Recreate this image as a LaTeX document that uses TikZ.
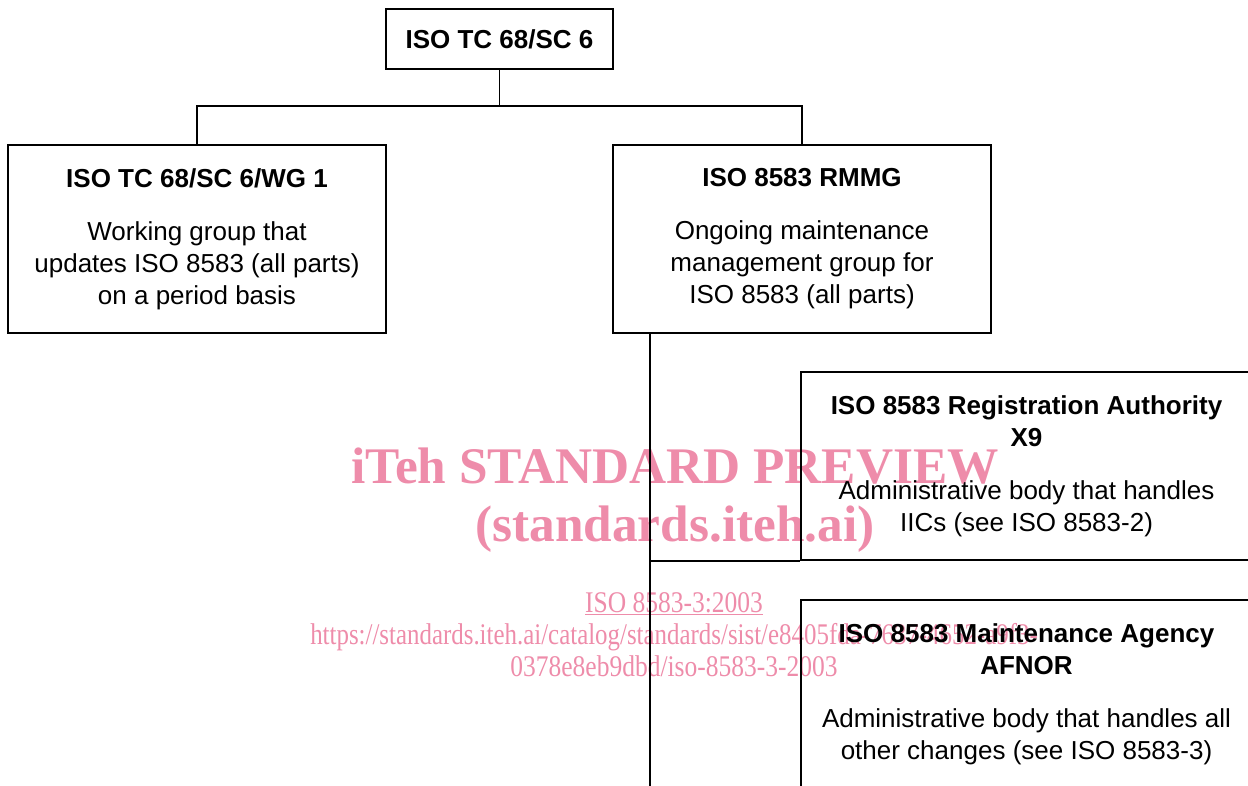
\documentclass[tikz,border=0pt]{standalone}
\usepackage{fontspec}
\usepackage{graphicx}
\usepackage{xcolor}
\setmainfont{Liberation Sans}
\newfontfamily\wmfont{Liberation Serif}
\usetikzlibrary{positioning}
\definecolor{wmpink}{RGB}{238,140,170}

\begin{document}
\begin{tikzpicture}[x=0.75pt,y=-0.75pt,line width=1.4pt,on grid,
		box/.style={draw,align=center,inner sep=0pt,font=\fontsize{19.5}{24}\selectfont},
		wide/.style={box,minimum width=283.5pt,minimum height=141pt},
		wider/.style={box,minimum width=338.25pt,minimum height=141pt},
		wmbig/.style={anchor=base,inner sep=0pt,text=wmpink,font=\wmfont\bfseries\fontsize{38.5}{40}\selectfont},
		wmsmall/.style={anchor=base,inner sep=0pt,text=wmpink,font=\wmfont\fontsize{22.5}{24}\selectfont}]
		\useasboundingbox (0,0) rectangle (1248,785);
		\clip (0,0) rectangle (1248,785);
		
		% watermark, under everything else
		\node[wmbig]	(wmtitle)	at (675,483)	{iTeh STANDARD PREVIEW};
		\node[wmbig]	(wmsite)	at (675,541)	{(standards.iteh.ai)};
		\node[wmsmall]	(wmcode)	at (674,612)	{\scalebox{0.85}[1]{\underline{ISO 8583-3:2003}}};
		\node[wmsmall]	(wmurl)		at (674,644)	{\scalebox{0.83}[1]{https://standards.iteh.ai/catalog/standards/sist/e8405fda-7637-4652-a9f3-}};
		\node[wmsmall]	(wmfile)	at (674,676)	{\scalebox{0.85}[1]{0378e8eb9dbd/iso-8583-3-2003}};
		
		\node[box,minimum width=170.25pt,minimum height=45pt]	(sc6)	at (499.5,39)	{\textbf{ISO TC 68/SC 6}};
		\node[wide]		(wg1)	at (197,239)
			{\textbf{ISO TC 68/SC 6/WG 1}\\[15.75pt]Working group that\\updates ISO 8583 (all parts)\\on a period basis};
		\node[wide]		(rmmg)	[right=453.75pt of wg1]
			{\textbf{ISO 8583 RMMG}\\[15.75pt]Ongoing maintenance\\management group for\\ISO 8583 (all parts)};
		\node[wider]	(ra)	[below right=170.25pt and 168.375pt of rmmg]
			{\textbf{ISO 8583 Registration Authority}\\\textbf{X9}\\[15.75pt]Administrative body that handles\\IICs (see ISO 8583-2)};
		\node[wider]	(ma)	[below=171pt of ra]
			{\textbf{ISO 8583 Maintenance Agency}\\\textbf{AFNOR}\\[15.75pt]Administrative body that handles all\\other changes (see ISO 8583-3)};
		
		\coordinate (fork) at (499.5,106);
		\coordinate (trunk) at ([xshift=28.5pt]rmmg.south west);
		
		\draw (sc6) -- (fork);
		\draw (wg1.north) |- (fork) -| (rmmg.north);
		\draw (trunk) |- (ra.south west);
		\draw (trunk) |- (ma.south west);
	\end{tikzpicture}
\end{document}
